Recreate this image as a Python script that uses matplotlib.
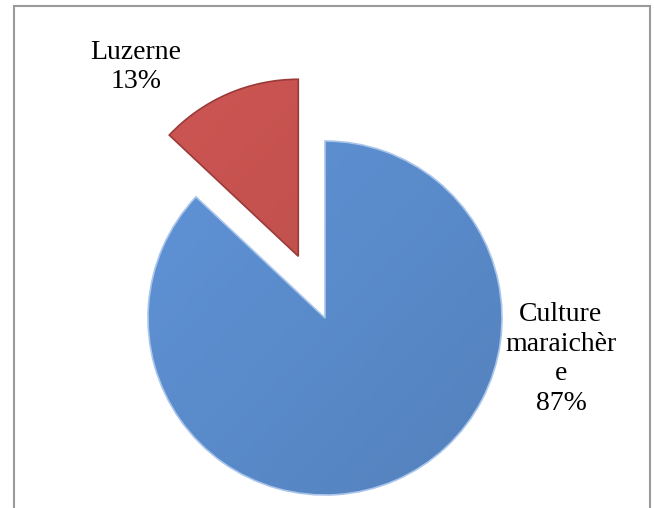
import matplotlib

matplotlib.use("Agg")
import matplotlib.pyplot as plt
import numpy as np
from matplotlib.patches import Rectangle

# Répartition des cultures (%)
cultures = ["Luzerne", "Culture\nmaraichèr\ne"]
parts = [13, 87]
couleurs = ["#c0504d", "#5a8bcb"]
bords = ["#9a3b39", "#a9c6ea"]
eclate = [0.38, 0.0]  # fraction du rayon

plt.rcParams["font.family"] = ["Liberation Serif", "DejaVu Serif"]

fig = plt.figure(figsize=(6.54, 5.08), dpi=100)
ax = fig.add_axes([0, 0, 1, 1])

rayon = 177
wedges, _ = ax.pie(
    parts,
    colors=couleurs,
    explode=[e * rayon for e in eclate],
    startangle=90,
    counterclock=True,
    center=(325, 190),
    radius=rayon,
    wedgeprops=dict(linewidth=1.2),
)
for w, ec in zip(wedges, bords):
    w.set_edgecolor(ec)

# léger dégradé sur chaque secteur
yy, xx = np.mgrid[0:1:200j, 0:1:200j]
shade = 0.5 * xx + 0.5 * yy
for w, c in zip(wedges, couleurs):
    base = np.array(matplotlib.colors.to_rgb(c))
    img = np.clip(base[None, None, :] * (1.08 - 0.16 * shade[..., None]), 0, 1)
    im = ax.imshow(img, extent=(120, 530, 0, 440), origin="upper",
                   zorder=w.get_zorder() + 0.1, interpolation="bilinear")
    im.set_clip_path(w)
    w.set_zorder(w.get_zorder() + 0.2)
    w.set_facecolor("none")

# étiquettes
ax.text(136, 508 - 67, f"{cultures[0]}\n{parts[0]}%", ha="center", va="center",
        fontsize=20, linespacing=1.2)
ax.text(561, 508 - 359, f"{cultures[1]}\n{parts[1]}%", ha="center", va="center",
        fontsize=20, linespacing=1.25)

ax.set_xlim(0, 654)
ax.set_ylim(0, 508)
ax.set_aspect("equal")
ax.axis("off")

fig.add_artist(Rectangle((14 / 654, -0.01), 636 / 654, 1 - 6 / 508 + 0.01,
                         transform=fig.transFigure, fill=False,
                         edgecolor="#9a9a9a", linewidth=1.5))

fig.savefig("out.png", dpi=100)
